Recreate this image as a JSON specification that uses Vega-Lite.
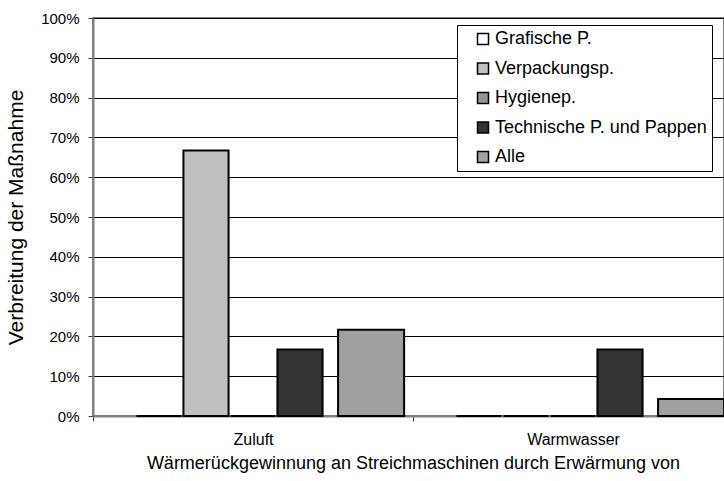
{
  "$schema": "https://vega.github.io/schema/vega-lite/v6.json",
  "width": 631,
  "height": 398,
  "autosize": {"type": "none"},
  "padding": {"left": 93, "top": 18, "right": 0, "bottom": 65},
  "background": "white",
  "config": {
    "font": "Liberation Sans",
    "view": {"stroke": "#808080", "strokeWidth": 2}
  },
  "data": {
    "values": [
      {"cat": "Zuluft", "series": "Grafische P.", "value": 0},
      {"cat": "Zuluft", "series": "Verpackungsp.", "value": 0.667},
      {"cat": "Zuluft", "series": "Hygienep.", "value": 0},
      {"cat": "Zuluft", "series": "Technische P. und Pappen", "value": 0.167},
      {"cat": "Zuluft", "series": "Alle", "value": 0.217},
      {"cat": "Warmwasser", "series": "Grafische P.", "value": 0},
      {"cat": "Warmwasser", "series": "Verpackungsp.", "value": 0},
      {"cat": "Warmwasser", "series": "Hygienep.", "value": 0},
      {"cat": "Warmwasser", "series": "Technische P. und Pappen", "value": 0.167},
      {"cat": "Warmwasser", "series": "Alle", "value": 0.043}
    ]
  },
  "encoding": {
    "x": {
      "field": "cat",
      "type": "nominal",
      "sort": ["Zuluft", "Warmwasser"],
      "scale": {"range": [0, 640], "paddingInner": 0, "paddingOuter": 0},
      "axis": {
        "title": "Wärmerückgewinnung an Streichmaschinen durch Erwärmung von",
        "titleFontSize": 18,
        "titleFontWeight": "normal",
        "titleColor": "black",
        "titlePadding": 7,
        "labelAngle": 0,
        "labelFontSize": 16,
        "labelColor": "black",
        "labelPadding": 10,
        "domainColor": "#808080",
        "domainWidth": 2,
        "tickBand": "extent",
        "tickColor": "#404040",
        "tickSize": 5,
        "grid": false
      }
    },
    "y": {
      "field": "value",
      "type": "quantitative",
      "scale": {"domain": [0, 1], "nice": false},
      "axis": {
        "title": "Verbreitung der Maßnahme",
        "titleFontSize": 21,
        "titleFontWeight": "normal",
        "titleColor": "black",
        "titlePadding": 14,
        "format": ".0%",
        "values": [0, 0.1, 0.2, 0.3, 0.4, 0.5, 0.6, 0.7, 0.8, 0.9, 1],
        "labelFontSize": 15,
        "labelColor": "black",
        "labelPadding": 9,
        "domainColor": "#808080",
        "domainWidth": 2,
        "tickColor": "#404040",
        "tickSize": 5,
        "grid": true,
        "gridColor": "black",
        "gridWidth": 1
      }
    },
    "color": {
      "field": "series",
      "type": "nominal",
      "scale": {
        "domain": ["Grafische P.", "Verpackungsp.", "Hygienep.", "Technische P. und Pappen", "Alle"],
        "range": ["#FFFFFF", "#C0C0C0", "#969696", "#333333", "#A0A0A0"]
      },
      "legend": {
        "title": null,
        "orient": "none",
        "legendX": 364,
        "legendY": 7,
        "fillColor": "white",
        "strokeColor": "black",
        "padding": 5,
        "labelFontSize": 18,
        "labelColor": "black",
        "labelOffset": 3,
        "labelLimit": 400,
        "symbolType": "square",
        "symbolSize": 121,
        "symbolOffset": 12,
        "symbolStrokeColor": "black",
        "symbolStrokeWidth": 1.5,
        "symbolOpacity": 1,
        "rowPadding": 11.5
      }
    }
  },
  "layer": [
    {
      "transform": [{"filter": "datum.series != 'Alle'"}],
      "mark": {"type": "bar", "stroke": "black", "strokeWidth": 2, "opacity": 1},
      "encoding": {
        "xOffset": {
          "field": "series",
          "type": "nominal",
          "scale": {
            "domain": ["Grafische P.", "Verpackungsp.", "Hygienep.", "Technische P. und Pappen", "Leer"],
            "paddingInner": 0.04,
            "paddingOuter": 0.924
          }
        }
      }
    },
    {
      "transform": [{"filter": "datum.series == 'Alle'"}],
      "mark": {"type": "bar", "stroke": "black", "strokeWidth": 2, "opacity": 1},
      "encoding": {
        "xOffset": {
          "field": "series",
          "type": "nominal",
          "scale": {
            "domain": ["Alle"],
            "paddingInner": 0.48,
            "paddingOuter": 1,
            "align": 0.965
          }
        }
      }
    }
  ],
  "resolve": {"scale": {"xOffset": "independent"}}
}
